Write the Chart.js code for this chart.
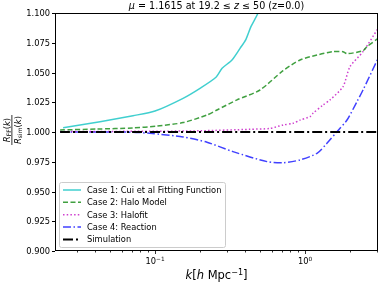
<!DOCTYPE html>
<html>
<head>
<meta charset="utf-8">
<script src="https://cdn.jsdelivr.net/npm/chart.js@4.4.0/dist/chart.umd.min.js"></script>
<style>
  html, body { margin: 0; padding: 0; background: #fff; }
  #wrap { width: 379px; height: 283px; }
</style>
</head>
<body>
<div id="wrap"><canvas id="c" width="379" height="283"></canvas></div>
<script>
'use strict';

// ── data ──────────────────────────────────────────────────────────────────────

const cuiK   = [0.0244, 0.043, 0.0713, 0.1, 0.1538, 0.1995, 0.255, 0.28, 0.326, 0.369, 0.404, 0.436, 0.486, 0.55];
const cuiR   = [1.0036, 1.0087, 1.0137, 1.0176, 1.0283, 1.0367, 1.046, 1.0535, 1.0605, 1.0703, 1.0779, 1.0885, 1.1, 1.12];

const haloK  = [0.0233, 0.0411, 0.0713, 0.1031, 0.154, 0.222, 0.259, 0.352, 0.501, 0.714, 0.926, 1.202, 1.538, 1.79, 1.905, 2.436, 2.59, 3.07];
const haloR  = [1.0017, 1.0025, 1.0034, 1.005, 1.0079, 1.0143, 1.0185, 1.027, 1.0353, 1.0515, 1.0605, 1.0647, 1.0675, 1.0675, 1.0658, 1.0683, 1.0717, 1.0787];

const hfitK  = [0.0233, 0.043, 0.0926, 0.1995, 0.43, 0.584, 0.714, 0.832, 0.926, 1.08, 1.13, 1.318, 1.468, 1.79, 1.995, 2.436, 3.07];
const hfitR  = [1.0005, 1.0005, 1.0006, 1.001, 1.0023, 1.003, 1.0059, 1.0073, 1.01, 1.0129, 1.0157, 1.0227, 1.027, 1.038, 1.0549, 1.0675, 1.0871];

const reacK  = [0.0233, 0.043, 0.0713, 0.0926, 0.154, 0.222, 0.331, 0.558, 0.714, 0.926, 1.202, 1.4, 1.634, 1.905, 2.22, 2.436, 3.07];
const reacR  = [1.0, 1.0, 0.9998, 0.9989, 0.9958, 0.9914, 0.9835, 0.9751, 0.9742, 0.9765, 0.9821, 0.9905, 1.0003, 1.0101, 1.0255, 1.0353, 1.0619];

const simK   = [0.0233, 3.07];
const simR   = [1.0, 1.0];

const yTicks = [0.9, 0.925, 0.95, 0.975, 1.0, 1.025, 1.05, 1.075, 1.1];
const yTickLabels = ['0.900', '0.925', '0.950', '0.975', '1.000', '1.025', '1.050', '1.075', '1.100'];
const xMajor = [0.1, 1];
const xMajorExp = ['\u22121', '0'];
const xMinor = [0.03, 0.04, 0.05, 0.06, 0.07, 0.08, 0.09, 0.2, 0.3, 0.4, 0.5, 0.6, 0.7, 0.8, 0.9, 2, 3];

const legendLabels = ['Case 1: Cui et al Fitting Function', 'Case 2: Halo Model', 'Case 3: Halofit', 'Case 4: Reaction', 'Simulation'];

// ── helpers ───────────────────────────────────────────────────────────────────

const FONT = '"DejaVu Sans", sans-serif';

function pts(xs, ys) {
  return xs.map((x, i) => ({ x, y: ys[i] }));
}

// draw a sequence of text runs [{t, f, dy}] starting at x (or centred)
function runs(ctx, list, x, y, align) {
  let w = 0;
  list.forEach(r => { ctx.font = r.f; w += ctx.measureText(r.t).width; });
  let cx = align === 'center' ? x - w / 2 : align === 'right' ? x - w : x;
  ctx.textAlign = 'left';
  ctx.textBaseline = 'alphabetic';
  list.forEach(r => {
    ctx.font = r.f;
    ctx.fillText(r.t, cx, y + (r.dy || 0));
    cx += ctx.measureText(r.t).width;
  });
}

const styles = [
  { color: 'rgba(0,191,191,0.75)', dash: [],              width: 1.5 },
  { color: 'rgba(0,128,0,0.75)',   dash: [5, 2.5],         width: 1.5 },
  { color: 'rgba(191,0,191,0.75)', dash: [1.5, 2.2],       width: 1.5 },
  { color: 'rgba(0,0,255,0.75)',   dash: [8, 2.5, 1.5, 2.5], width: 1.5 },
  { color: '#000',                 dash: [10, 3, 2, 3],    width: 2 },
];

// ── decorations ───────────────────────────────────────────────────────────────

const deco = {
  id: 'deco',
  afterDraw(chart) {
    const ctx = chart.ctx;
    const a = chart.chartArea;
    const xs = chart.scales.x, ys = chart.scales.y;
    ctx.save();
    ctx.fillStyle = '#000';
    ctx.strokeStyle = '#000';

    // spines
    ctx.lineWidth = 1;
    ctx.strokeRect(Math.round(a.left) + 0.5, Math.round(a.top) + 0.5,
      Math.round(a.right - a.left) - 1, Math.round(a.bottom - a.top) - 1);

    // y ticks
    ctx.beginPath();
    yTicks.forEach((v, i) => {
      const py = Math.round(ys.getPixelForValue(v)) + 0.5;
      ctx.moveTo(a.left - 3, py); ctx.lineTo(a.left, py);
    });
    ctx.stroke();
    yTicks.forEach((v, i) => {
      const py = ys.getPixelForValue(v);
      runs(ctx, [{ t: yTickLabels[i], f: '8.3px ' + FONT }], a.left - 5, py + 3, 'right');
    });

    // x ticks
    const bot = Math.round(a.bottom) - 0.5;
    ctx.beginPath();
    xMajor.forEach(v => {
      const px = Math.round(xs.getPixelForValue(v)) + 0.5;
      ctx.moveTo(px, bot); ctx.lineTo(px, bot + 3.5);
    });
    xMinor.forEach(v => {
      const px = Math.round(xs.getPixelForValue(v)) + 0.5;
      ctx.moveTo(px, bot); ctx.lineTo(px, bot + 2);
    });
    ctx.lineWidth = 0.8;
    ctx.stroke();
    xMajor.forEach((v, i) => {
      const px = xs.getPixelForValue(v);
      runs(ctx, [
        { t: '10', f: '8.3px ' + FONT },
        { t: xMajorExp[i], f: '5.8px ' + FONT, dy: -3.5 },
      ], px, 264, 'center');
    });

    // title
    const tf = '9.6px ' + FONT, ti = 'italic 9.6px ' + FONT;
    runs(ctx, [
      { t: '\u03bc', f: ti }, { t: ' = 1.1615 at 19.2 \u2264 ', f: tf },
      { t: 'z', f: ti }, { t: ' \u2264 50 (z=0.0)', f: tf },
    ], (a.left + a.right) / 2, 9, 'center');

    // x label
    const lf = '11.5px ' + FONT, li = 'italic 11.5px ' + FONT;
    runs(ctx, [
      { t: 'k', f: li }, { t: '[', f: lf }, { t: 'h', f: li }, { t: ' Mpc', f: lf },
      { t: '\u22121', f: '8px ' + FONT, dy: -4.5 }, { t: ']', f: lf },
    ], (a.left + a.right) / 2, 279, 'center');

    // y label (fraction, rotated)
    ctx.save();
    ctx.translate(12, 130);
    ctx.rotate(-Math.PI / 2);
    const rf = 'italic 8.5px ' + FONT, sf = '6px ' + FONT, pf = '8.5px ' + FONT;
    runs(ctx, [
      { t: 'R', f: rf }, { t: 'FF', f: sf, dy: 1.5 }, { t: '(', f: pf }, { t: 'k', f: rf }, { t: ')', f: pf },
    ], 0, -2.5, 'center');
    runs(ctx, [
      { t: 'R', f: rf }, { t: 'sim', f: sf, dy: 1.5 }, { t: '(', f: pf }, { t: 'k', f: rf }, { t: ')', f: pf },
    ], 0, 8.5, 'center');
    ctx.fillRect(-15, -0.5, 30, 0.8);
    ctx.restore();

    // legend
    const lx = 59.5, ly = 182.5, lw = 166, lh = 65;
    ctx.fillStyle = 'rgba(255,255,255,0.8)';
    ctx.strokeStyle = '#cccccc';
    ctx.lineWidth = 1;
    ctx.beginPath();
    ctx.roundRect(lx, ly, lw, lh, 2);
    ctx.fill();
    ctx.stroke();
    legendLabels.forEach((lab, i) => {
      const cy = 190 + i * 12.35;
      const s = styles[i];
      ctx.strokeStyle = s.color;
      ctx.lineWidth = s.width;
      ctx.setLineDash(s.dash);
      ctx.beginPath();
      ctx.moveTo(63, cy); ctx.lineTo(81, cy);
      ctx.stroke();
      ctx.setLineDash([]);
      ctx.fillStyle = '#000';
      runs(ctx, [{ t: lab, f: '8.3px ' + FONT }], 87, cy + 3, 'left');
    });
    ctx.restore();
  }
};

// ── chart ─────────────────────────────────────────────────────────────────────

const series = [pts(cuiK, cuiR), pts(haloK, haloR), pts(hfitK, hfitR), pts(reacK, reacR), pts(simK, simR)];

new Chart(document.getElementById('c'), {
  type: 'line',
  data: {
    datasets: series.map((d, i) => ({
      label: legendLabels[i],
      data: d,
      borderColor: styles[i].color,
      borderWidth: styles[i].width,
      borderDash: styles[i].dash,
      pointRadius: 0,
      fill: false,
      tension: 0.25,
      clip: 0,
      order: i === 4 ? 0 : 1,
    }))
  },
  options: {
    responsive: false,
    animation: false,
    events: [],
    layout: { padding: { left: 0, right: 1, top: 13, bottom: 0 } },
    plugins: { legend: { display: false }, tooltip: { enabled: false }, title: { display: false } },
    scales: {
      x: {
        type: 'logarithmic',
        min: 0.02154, max: 3.066,
        ticks: { display: false },
        grid: { display: false },
        border: { display: false },
        afterFit(s) { s.height = 32; },
      },
      y: {
        min: 0.9, max: 1.1,
        ticks: { display: false },
        grid: { display: false },
        border: { display: false },
        afterFit(s) { s.width = 55; },
      },
    },
  },
  plugins: [deco],
});
</script>
</body>
</html>
